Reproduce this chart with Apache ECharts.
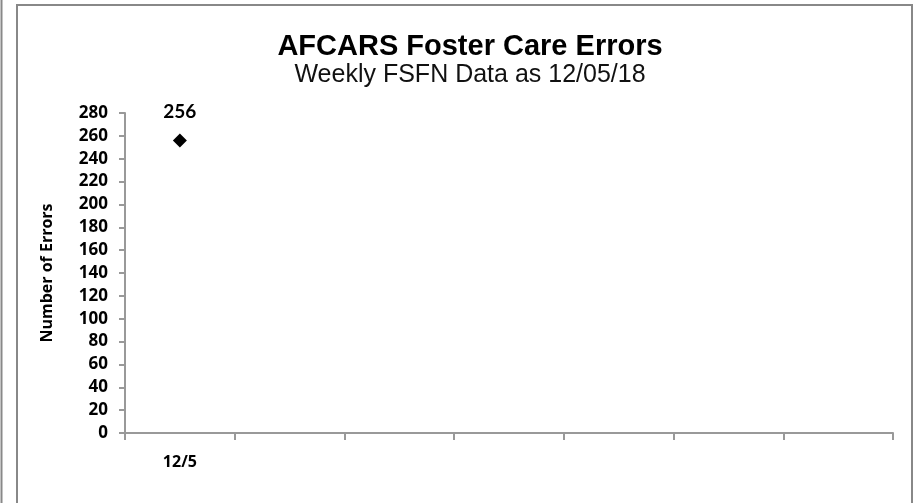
<!DOCTYPE html>
<html>
<head>
<meta charset="utf-8">
<title>AFCARS Foster Care Errors</title>
<script src="https://cdn.jsdelivr.net/npm/echarts@6/dist/echarts.min.js"></script>
<style>
  html, body { margin: 0; padding: 0; background: #fff; }
  #chart { width: 918px; height: 503px; }
</style>
</head>
<body>
<div id="chart"></div>
<script>
// weekly categories (only the first week has data so far)
const weeks = ["12/5", "", "", "", "", "", ""];
const errors = [256, null, null, null, null, null, null];
const yTicks = { min: 0, max: 280, step: 20 };

const chart = echarts.init(document.getElementById("chart"));

const option = {
  backgroundColor: "#fff",
  animation: false,
  title: [
    {
      text: "AFCARS Foster Care Errors",
      left: 465,
      top: 27,
      textAlign: "center",
      textStyle: {
        fontFamily: "Liberation Sans",
        fontWeight: "bold",
        fontSize: 29,
        color: "#000",
      },
    },
    {
      text: "Weekly FSFN Data as 12/05/18",
      left: 465,
      top: 58,
      textAlign: "center",
      textStyle: {
        fontFamily: "Liberation Sans",
        fontWeight: "normal",
        fontSize: 25,
        color: "#111",
      },
    },
  ],
  graphic: [
    {
      type: "line",
      shape: { x1: 1.5, y1: 0, x2: 1.5, y2: 503 },
      style: { stroke: "#888", lineWidth: 2 },
    },
    {
      type: "rect",
      shape: { x: 17, y: 5, width: 895, height: 520 },
      style: { stroke: "#888", lineWidth: 2, fill: "none" },
    },
  ],
  grid: {
    left: 125,
    right: 25,
    top: 113,
    bottom: 70,
  },
  xAxis: {
    type: "category",
    data: weeks,
    boundaryGap: true,
    axisLine: { lineStyle: { color: "#999", width: 2 } },
    axisTick: { show: true, length: 7, lineStyle: { color: "#999", width: 2 } },
    axisLabel: {
      interval: 0,
      margin: 21,
      fontFamily: "Open Sans",
      fontWeight: "bold",
      fontSize: 16,
      color: "#000",
    },
    splitLine: { show: false },
  },
  yAxis: {
    type: "value",
    min: yTicks.min,
    max: yTicks.max,
    interval: yTicks.step,
    name: "Number of Errors",
    nameLocation: "middle",
    nameGap: 70,
    nameRotate: 90,
    nameTextStyle: {
      fontFamily: "Open Sans",
      fontWeight: "bold",
      fontSize: 16,
      color: "#000",
    },
    axisLine: { show: true, lineStyle: { color: "#999", width: 2 } },
    axisTick: { show: true, length: 6, lineStyle: { color: "#999", width: 2 } },
    axisLabel: {
      margin: 17,
      fontFamily: "Open Sans",
      fontWeight: "bold",
      fontSize: 17,
      color: "#000",
    },
    splitLine: { show: false },
  },
  series: [
    {
      type: "line",
      data: errors,
      symbol: "diamond",
      symbolSize: 14,
      itemStyle: { color: "#000" },
      lineStyle: { width: 0 },
      label: {
        show: true,
        position: "top",
        distance: 12,
        fontFamily: "Lato",
        fontWeight: "bold",
        fontSize: 19,
        color: "#000",
      },
    },
  ],
};

chart.setOption(option);
</script>
</body>
</html>
